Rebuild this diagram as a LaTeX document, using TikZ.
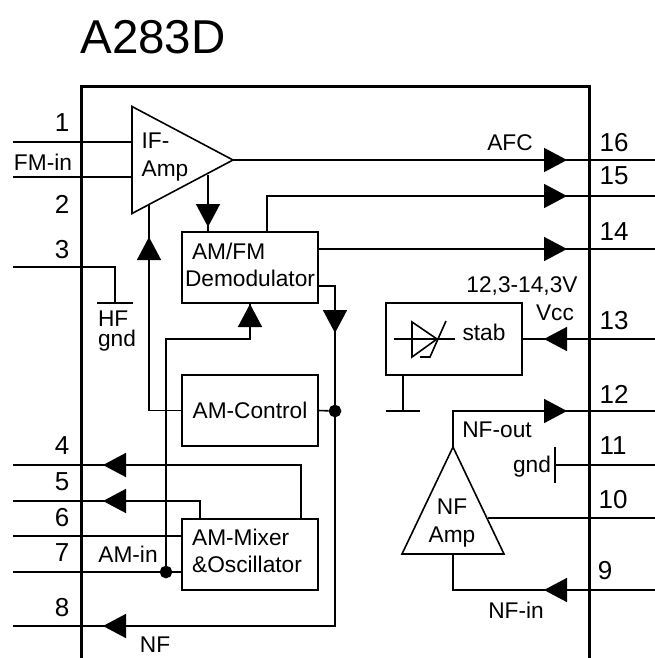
\documentclass[tikz,border=0pt]{standalone}
\usepackage{fontspec}
\setmainfont{Liberation Sans}
\usetikzlibrary{arrows.meta,calc,positioning,shapes.geometric,decorations.markings}

\begin{document}
\begin{tikzpicture}[x=1pt,y=-1pt,line width=1.6pt,
  lbl/.style={inner sep=0pt,font=\fontsize{22.7}{27.5}\selectfont,align=left},
  pinno/.style={inner sep=0pt,font=\fontsize{26}{28}\selectfont},
  blockbox/.style={draw,inner sep=0pt,outer sep=0pt,minimum width=136pt,minimum height=71pt,font=\fontsize{22.7}{27.5}\selectfont},
  amptri/.style={draw,isosceles triangle,isosceles triangle stretches,inner sep=0pt,outer sep=0pt},
  junction/.style={draw,circle,fill,inner sep=0pt,minimum size=11pt},
  tipat/.style={postaction={decorate},decoration={markings,
    mark=at position #1 with {\arrow{Triangle[length=23pt,width=24pt]}}}}]
\useasboundingbox (0,0) rectangle (655,658);
\node[inner sep=0pt,font=\fontsize{47.5}{50}\selectfont] (title) at (153,37) {A283D};
\draw[line width=3pt] (81,658) -- (81,87) -- (589,87) -- (589,658);
% pin ends
\coordinate (l1) at (13,142);
\coordinate (l2) at (13,177);
\coordinate (l3) at (13,267);
\coordinate (l4) at (13,465);
\coordinate (l5) at (13,501);
\coordinate (l6) at (13,536);
\coordinate (l7) at (13,572);
\coordinate (l8) at (13,626);
\coordinate (r9) at (655,590);
\coordinate (r10) at (655,518);
\coordinate (r11) at (655,465);
\coordinate (r12) at (655,411);
\coordinate (r13) at (655,339);
\coordinate (r14) at (655,249);
\coordinate (r15) at (655,196);
\coordinate (r16) at (655,160);
% blocks
\node[amptri,anchor=apex,minimum width=107pt,minimum height=101pt] (ifamp) at (233,160) {};
\node[blockbox] (demod) at (250,267.5) {};
\node[blockbox] (control) at (250,410.5) {AM-Control};
\node[blockbox] (mixer) at (250,554.5) {};
\node[draw,inner sep=0pt,outer sep=0pt,minimum width=136pt,minimum height=72pt] (stab) at (454,339) {};
\node[amptri,shape border rotate=90,anchor=apex,minimum width=102pt,minimum height=107pt] (nfamp) at (453,447) {};
\node[junction] (dotctl) at (335,411) {};
\node[junction] (dotin) at (166,572) {};
% connectors
\draw (l1) -- (l1 -| ifamp.lower side);
\draw (l2) -- (l2 -| ifamp.lower side);
\draw[tipat=-88pt] (ifamp.apex) -- (r16);
\coordinate (ifdown) at (208,175);
\draw[tipat=-5pt] (ifdown) -- (ifdown |- demod.north);
\coordinate (ifup) at (149,205);
\draw[tipat=-32pt] (control.west) -- (control.west -| ifup) -- (ifup);
\coordinate (dem15) at (267,232);
\draw[tipat=-88pt] (dem15) -- (dem15 |- r15) -- (r15);
\draw[tipat=-88pt] (demod.east |- r14) -- (r14);
\coordinate (dem2) at (318,286);
\draw[tipat=64pt] (dem2) -- (dem2 -| dotctl) -- (dotctl);
\draw (control.east) -- (dotctl);
\draw[tipat=-90pt] (dotctl) -- (dotctl |- l8) -- (l8);
\coordinate (hfgnd) at (115,303);
\draw (l3) -- (l3 -| hfgnd) -- (hfgnd);
\draw (hfgnd) ++(-18,0) -- ++(36,0);
\coordinate (agc) at (250,339);
\draw[tipat=-1pt] (dotin) -- (dotin |- agc) -- (agc) -- (agc |- demod.south);
\coordinate (mix4) at (301,519);
\draw[tipat=-90pt] (mix4) -- (mix4 |- l4) -- (l4);
\coordinate (mix5) at (200,519);
\draw[tipat=-90pt] (mix5) -- (mix5 |- l5) -- (l5);
\draw (l6) -- (l6 -| mixer.west);
\draw (l7) -- (l7 -| mixer.west);
\draw[tipat=111pt] (r13) -- (stab.east);
\coordinate (stabgnd) at (403,375);
\draw (stabgnd) -- (stabgnd |- dotctl);
\draw (stabgnd |- dotctl) ++(-17,0) -- ++(34,0);
\draw[tipat=-88pt] (nfamp.apex) -- (nfamp.apex |- r12) -- (r12);
\coordinate (gndbar) at (555,465);
\draw (r11) -- (gndbar);
\draw (gndbar) ++(0,-18) -- ++(0,36);
\draw (r10) -- (r10 -| 488,0);
\draw[tipat=111pt] (r9) -- (r9 -| nfamp.lower side) -- (nfamp.lower side);
% zener in the stabiliser
\draw (394,339) -- (455,339);
\draw (412,322) -- (412,357) -- (437,339) -- cycle;
\draw (446,321) -- (430,357) -- (420,357);
% texts
\node[pinno] (no1) at (62,123) {1};
\node[pinno] (no2) at (62,204) {2};
\node[pinno] (no3) at (62,250) {3};
\node[pinno] (no4) at (62,446) {4};
\node[pinno] (no5) at (62,482) {5};
\node[pinno] (no6) at (62,518) {6};
\node[pinno] (no7) at (62,553) {7};
\node[pinno] (no8) at (62,608) {8};
\node[pinno] (no9) at (605,571) {9};
\node[pinno] (no10) at (613,500) {10};
\node[pinno] (no11) at (613,446) {11};
\node[pinno] (no12) at (614,394) {12};
\node[pinno] (no13) at (614,321) {13};
\node[pinno] (no14) at (614,232) {14};
\node[pinno] (no15) at (614,176) {15};
\node[pinno] (no16) at (614,143) {16};
\node[lbl] (fmin) at (43,162) {FM-in};
\node[lbl] (iflbl) at (165,157) {IF-\\Amp};
\node[lbl] (demlbl) at (250,265) {\hspace{7pt}AM/FM\\Demodulator};
\node[lbl] (mixlbl) at (247,551) {AM-Mixer\\\&Oscillator};
\node[lbl] (hflbl) at (117,331) {HF\\[-7.5pt]gnd};
\node[lbl] (afc) at (510,143) {AFC};
\node[lbl] (vrange) at (522,286) {12,3-14,3V};
\node[lbl] (vcc) at (555,313) {Vcc};
\node[lbl] (stablbl) at (484,332) {stab};
\node[lbl] (nfout) at (497,430) {NF-out};
\node[lbl] (gnd) at (532,467) {gnd};
\node[lbl,align=center] (nflbl) at (452,523) {NF\\Amp};
\node[lbl] (nfin) at (516,610) {NF-in};
\node[lbl] (amin) at (128,554) {AM-in};
\node[lbl] (nf) at (155,645) {NF};
\end{tikzpicture}
\end{document}
